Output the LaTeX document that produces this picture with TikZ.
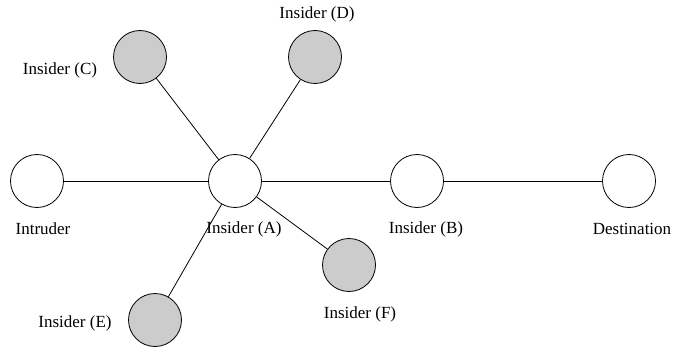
\documentclass[tikz,border=0pt]{standalone}
\usepackage{fontspec}
\setmainfont{Liberation Serif}
\begin{document}
\begin{tikzpicture}[x=1pt,y=-1pt,
  peer/.style={circle,draw,line width=0.8pt,minimum size=53pt,inner sep=0pt},
  insider/.style={peer,fill=gray!40},
  lbl/.style={font=\fontsize{17}{20}\selectfont,inner sep=0pt},
  link/.style={line width=0.8pt}]
\useasboundingbox (0,0) rectangle (674,350);
\node[peer] (I) at (37,181) {};
\node[peer] (A) at (235,181) {};
\node[peer] (B) at (417,181) {};
\node[peer] (T) at (629,181) {};
\node[insider] (C) at (140,57) {};
\node[insider] (D) at (315,57) {};
\node[insider] (E) at (155,320) {};
\node[insider] (F) at (349,265) {};
\node[lbl] (lI) at (43,229) {Intruder};
\node[lbl] (lA) at (244,229) {Insider (A)};
\node[lbl] (lB) at (426,229) {Insider (B)};
\node[lbl] (lT) at (632,229) {Destination};
\node[lbl] (lC) at (60,70) {Insider (C)};
\node[lbl] (lD) at (317,14) {Insider (D)};
\node[lbl] (lE) at (75,323) {Insider (E)};
\node[lbl] (lF) at (360,314) {Insider (F)};
\draw[link] (I) -- (A);
\draw[link] (A) -- (B);
\draw[link] (B) -- (T);
\draw[link] (A) -- (C);
\draw[link] (A) -- (D);
\draw[link] (A) -- (E);
\draw[link] (A) -- (F);
\end{tikzpicture}
\end{document}
